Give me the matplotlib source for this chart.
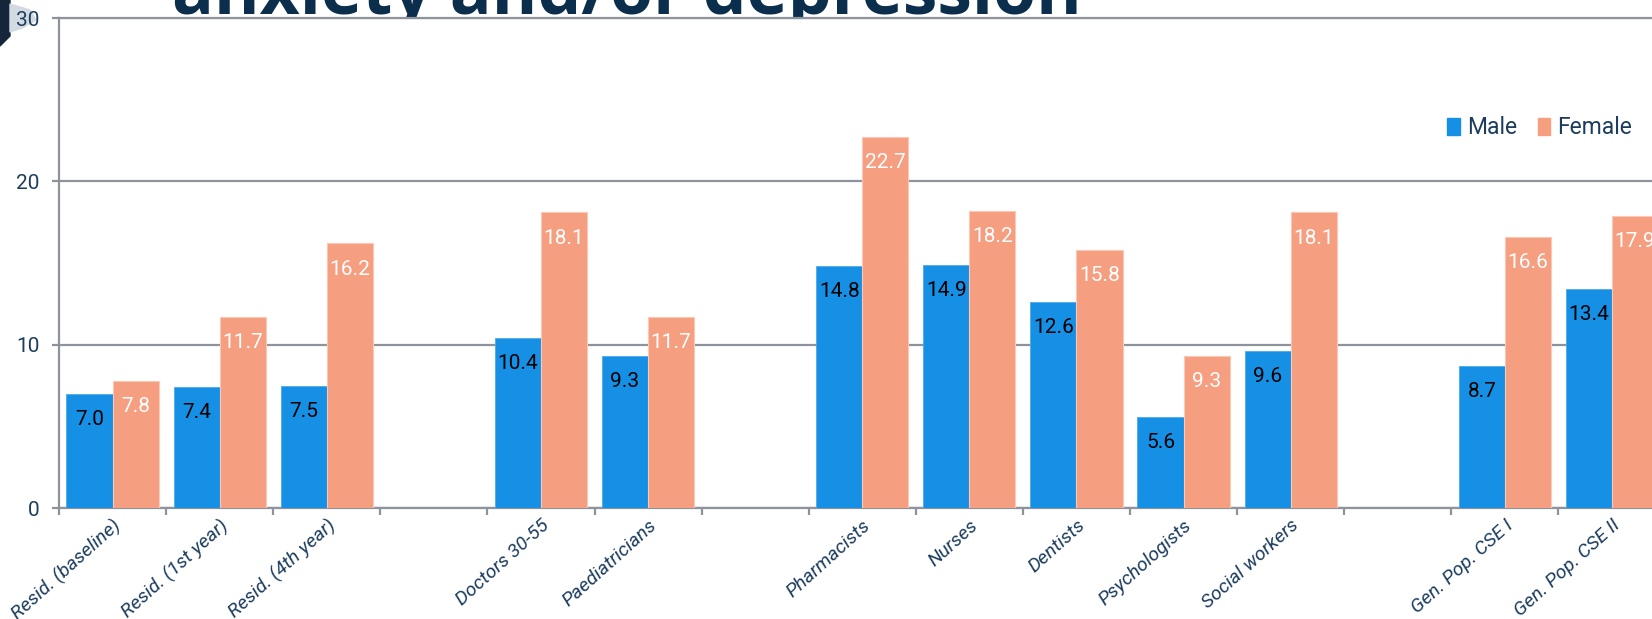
import numpy as np
import matplotlib.pyplot as plt
from matplotlib.patches import Patch, Polygon

# data
categories = ['Resid. (baseline)', 'Resid. (1st year)', 'Resid. (4th year)', '',
              'Doctors 30-55', 'Paediatricians', '',
              'Pharmacists', 'Nurses', 'Dentists', 'Psychologists', 'Social workers', '',
              'Gen. Pop. CSE I', 'Gen. Pop. CSE II']
male = [7.0, 7.4, 7.5, None, 10.4, 9.3, None, 14.8, 14.9, 12.6, 5.6, 9.6, None, 8.7, 13.4]
female = [7.8, 11.7, 16.2, None, 18.1, 11.7, None, 22.7, 18.2, 15.8, 9.3, 18.1, None, 16.6, 17.9]
yticks = [0, 10, 20, 30]
title = 'anxiety and/or depression'

# styles
W, H = 1652, 619
blue = '#1690E5'
orange = '#F59E80'
navy = '#1D3D5E'
grid_c = '#8E939B'
narrow = ['Roboto', 'DejaVu Sans']

fig = plt.figure(figsize=(W / 100, H / 100), dpi=100)
fig.patch.set_facecolor('white')

# slide title, partly hidden behind the chart area
fig.text(172 / W, 1 - 14 / H, title, fontsize=50, fontweight='bold',
         family=['Open Sans', 'DejaVu Sans'], color='#0B2E4D', va='baseline', zorder=-2)

# slide decoration on the left edge
fig.patches.append(Polygon([(0, 1), (10 / W, 1), (10 / W, 1 - 36 / H), (0, 1 - 46 / H)],
                           closed=True, transform=fig.transFigure, color='#16263A', zorder=-1))
fig.patches.append(Polygon([(10 / W, 1 - 4 / H), (30 / W, 1 - 10 / H), (36 / W, 1 - 20 / H),
                            (22 / W, 1 - 28 / H), (10 / W, 1 - 32 / H)],
                           closed=True, transform=fig.transFigure, color='#D3DAE2', zorder=-1))

ax = fig.add_axes([59 / W, (H - 508) / H, 1606.5 / W, 490 / H])
ax.set_facecolor('white')

x = np.arange(len(categories))
bw = 0.43
idx = [i for i in x if male[i] is not None]
mv = [male[i] for i in idx]
fv = [female[i] for i in idx]
ax.bar(np.array(idx) - bw / 2, mv, bw, color=blue, edgecolor='#4FA9EA', linewidth=0.6, label='Male', zorder=3)
ax.bar(np.array(idx) + bw / 2, fv, bw, color=orange, edgecolor='#FBC8B5', linewidth=0.8, label='Female', zorder=3)

for i, m, f in zip(idx, mv, fv):
    ax.annotate(f'{m:.1f}', (i - bw / 2, m), xytext=(0, -18.5), textcoords='offset points',
                ha='center', va='center', fontsize=15, family=narrow, color='black', zorder=4)
    ax.annotate(f'{f:.1f}', (i + bw / 2, f), xytext=(0, -18.5), textcoords='offset points',
                ha='center', va='center', fontsize=15, family=narrow, color='white', zorder=4)

ax.set_xlim(-0.5, len(categories) - 0.5)
ax.set_ylim(0, 30)
ax.set_yticks(yticks)
ax.yaxis.grid(True, color=grid_c, linewidth=1.6)
ax.set_axisbelow(True)

ax.spines['right'].set_visible(False)
for s in ['left', 'bottom', 'top']:
    ax.spines[s].set_color(grid_c)
    ax.spines[s].set_linewidth(1.6)

ax.tick_params(axis='y', length=5, width=1.6, color=grid_c, pad=9, labelsize=15, labelcolor=navy)
for lab in ax.get_yticklabels():
    lab.set_family(narrow)

ax.set_xticks(x)
ax.set_xticklabels(categories)
ax.set_xticks(np.arange(len(categories) + 1) - 0.5, minor=True)
ax.tick_params(axis='x', which='major', length=0, pad=6, labelsize=14, labelcolor=navy)
ax.tick_params(axis='x', which='minor', length=5, width=1.6, color=grid_c)
for lab in ax.get_xticklabels():
    lab.set_family(narrow)
    lab.set_style('italic')
    lab.set_rotation(42)
    lab.set_ha('right')
    lab.set_rotation_mode('anchor')

handles = [Patch(color=blue, label='Male'), Patch(color=orange, label='Female')]
fig.legend(handles=handles, loc='center right', bbox_to_anchor=(1632 / W, 1 - 128 / H),
           ncol=2, frameon=False, prop={'family': narrow, 'size': 16.5},
           handlelength=0.55, handleheight=0.8, handletextpad=0.3, columnspacing=0.9,
           borderpad=0, borderaxespad=0, labelcolor=navy)

fig.savefig('out.png', dpi=100)
